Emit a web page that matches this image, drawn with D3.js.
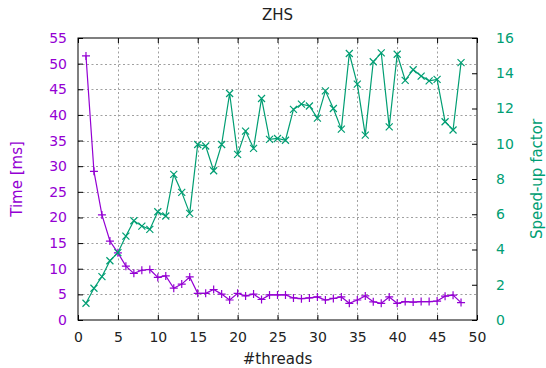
<!DOCTYPE html>
<html>
<head>
<meta charset="utf-8">
<script src="https://cdn.jsdelivr.net/npm/d3@7"></script>
<style>
  body { margin: 0; background: #fff; }
  text { font-family: "DejaVu Sans", sans-serif; }
</style>
</head>
<body>
<script>
// values
var threads = d3.range(1, 49);

var timeMs = [
    51.5, 29.0, 20.5, 15.4, 13.1, 10.5, 9.1, 9.7, 9.85, 8.3,
    8.6, 6.2, 7.0, 8.4, 5.2, 5.2, 5.95, 5.05, 3.9, 5.2,
    4.7, 5.05, 4.0, 4.9, 4.9, 4.9, 4.3, 4.15, 4.3, 4.5,
    3.9, 4.2, 4.5, 3.25, 3.9, 4.7, 3.55, 3.25, 4.5, 3.25,
    3.6, 3.5, 3.6, 3.6, 3.7, 4.65, 4.85, 3.4
];

var speedup = [
    0.95, 1.8, 2.46, 3.36, 3.82, 4.76, 5.63, 5.33, 5.14, 6.14,
    5.9, 8.26, 7.24, 6.05, 9.96, 9.87, 8.47, 9.96, 12.85, 9.4,
    10.72, 9.74, 12.57, 10.25, 10.3, 10.2, 11.95, 12.25, 12.14, 11.45,
    13.0, 12.0, 10.83, 15.12, 13.38, 10.49, 14.65, 15.16, 10.96, 15.08,
    13.6, 14.2, 13.84, 13.57, 13.65, 11.25, 10.78, 14.6
];

var xTicks = d3.range(0, 51, 5);
var yTicks = d3.range(0, 56, 5);
var y2Ticks = d3.range(0, 17, 2);

var purple = '#9400d3';
var green = '#009e73';

var width = 546;
var height = 368;
var margin = {left: 78, right: 69, top: 38, bottom: 48};

var svg = d3.select('body').append('svg')
    .attr('width', width)
    .attr('height', height);

var x = d3.scaleLinear().domain([0, 50]).range([margin.left, width - margin.right]);
var y = d3.scaleLinear().domain([0, 55]).range([height - margin.bottom, margin.top]);
var y2 = d3.scaleLinear().domain([0, 16]).range([height - margin.bottom, margin.top]);

var x0 = x.range()[0], x1 = x.range()[1];
var yb = y.range()[0], yt = y.range()[1];

// grid
var grid = svg.append('g')
    .attr('stroke', '#a0a0a0')
    .attr('stroke-width', 1)
    .attr('stroke-dasharray', '2,2.5');

grid.selectAll('.gx')
    .data(xTicks.filter(function(d) { return d > 0 && d < 50; }))
    .enter().append('line')
    .attr('x1', function(d) { return Math.round(x(d)) + 0.5; })
    .attr('x2', function(d) { return Math.round(x(d)) + 0.5; })
    .attr('y1', yt)
    .attr('y2', yb);

grid.selectAll('.gy')
    .data(yTicks.filter(function(d) { return d > 0 && d < 55; }))
    .enter().append('line')
    .attr('y1', function(d) { return Math.round(y(d)) + 0.5; })
    .attr('y2', function(d) { return Math.round(y(d)) + 0.5; })
    .attr('x1', x0)
    .attr('x2', x1);

// axes (ticks pointing inward, gnuplot style)
var tickLen = 5;

svg.append('g')
    .attr('transform', 'translate(0,' + yb + ')')
    .call(d3.axisBottom(x).tickValues(xTicks).tickSize(-tickLen).tickPadding(12))
    .call(function(g) {
        g.select('.domain').remove();
        g.selectAll('text').attr('font-size', 14).attr('fill', '#222').attr('dy', '0.71em');
    });

svg.append('g')
    .attr('transform', 'translate(0,' + yt + ')')
    .call(d3.axisTop(x).tickValues(xTicks).tickSize(-tickLen).tickFormat(''))
    .call(function(g) { g.select('.domain').remove(); });

svg.append('g')
    .attr('transform', 'translate(' + x0 + ',0)')
    .call(d3.axisLeft(y).tickValues(yTicks).tickSize(-tickLen).tickPadding(11))
    .call(function(g) {
        g.select('.domain').remove();
        g.selectAll('text').attr('font-size', 14).attr('fill', purple);
    });

svg.append('g')
    .attr('transform', 'translate(' + x1 + ',0)')
    .call(d3.axisRight(y2).tickValues(y2Ticks).tickSize(-tickLen).tickPadding(19))
    .call(function(g) {
        g.select('.domain').remove();
        g.selectAll('text').attr('font-size', 14).attr('fill', green);
    });

svg.selectAll('.tick line').attr('stroke', '#000');

// border
svg.append('rect')
    .attr('x', x0)
    .attr('y', yt)
    .attr('width', x1 - x0)
    .attr('height', yb - yt)
    .attr('fill', 'none')
    .attr('stroke', '#000')
    .attr('stroke-width', 1);

// series
var timeLine = d3.line()
    .x(function(d, i) { return x(threads[i]); })
    .y(function(d) { return y(d); });

var speedLine = d3.line()
    .x(function(d, i) { return x(threads[i]); })
    .y(function(d) { return y2(d); });

svg.append('path')
    .datum(timeMs)
    .attr('d', timeLine)
    .attr('fill', 'none')
    .attr('stroke', purple)
    .attr('stroke-width', 1.2);

var ms = 4;
svg.append('g')
    .selectAll('path')
    .data(timeMs)
    .enter().append('path')
    .attr('d', function(d, i) {
        var cx = x(threads[i]), cy = y(d);
        return 'M' + (cx - ms) + ',' + cy + 'H' + (cx + ms) +
               'M' + cx + ',' + (cy - ms) + 'V' + (cy + ms);
    })
    .attr('stroke', purple)
    .attr('stroke-width', 1.2);

svg.append('path')
    .datum(speedup)
    .attr('d', speedLine)
    .attr('fill', 'none')
    .attr('stroke', green)
    .attr('stroke-width', 1.2);

var mx = 3.5;
svg.append('g')
    .selectAll('path')
    .data(speedup)
    .enter().append('path')
    .attr('d', function(d, i) {
        var cx = x(threads[i]), cy = y2(d);
        return 'M' + (cx - mx) + ',' + (cy - mx) + 'L' + (cx + mx) + ',' + (cy + mx) +
               'M' + (cx - mx) + ',' + (cy + mx) + 'L' + (cx + mx) + ',' + (cy - mx);
    })
    .attr('stroke', green)
    .attr('stroke-width', 1.2);

// labels
svg.append('text')
    .attr('x', (x0 + x1) / 2)
    .attr('y', 20)
    .attr('text-anchor', 'middle')
    .attr('font-size', 15)
    .attr('fill', '#222')
    .text('ZHS');

svg.append('text')
    .attr('x', (x0 + x1) / 2)
    .attr('y', 364)
    .attr('text-anchor', 'middle')
    .attr('font-size', 15)
    .attr('fill', '#222')
    .text('#threads');

svg.append('text')
    .attr('transform', 'translate(22,' + (yt + yb) / 2 + ') rotate(-90)')
    .attr('text-anchor', 'middle')
    .attr('font-size', 15)
    .attr('fill', purple)
    .text('Time [ms]');

svg.append('text')
    .attr('transform', 'translate(542,' + (yt + yb) / 2 + ') rotate(-90)')
    .attr('text-anchor', 'middle')
    .attr('font-size', 15)
    .attr('fill', green)
    .text('Speed-up factor');
</script>
</body>
</html>
